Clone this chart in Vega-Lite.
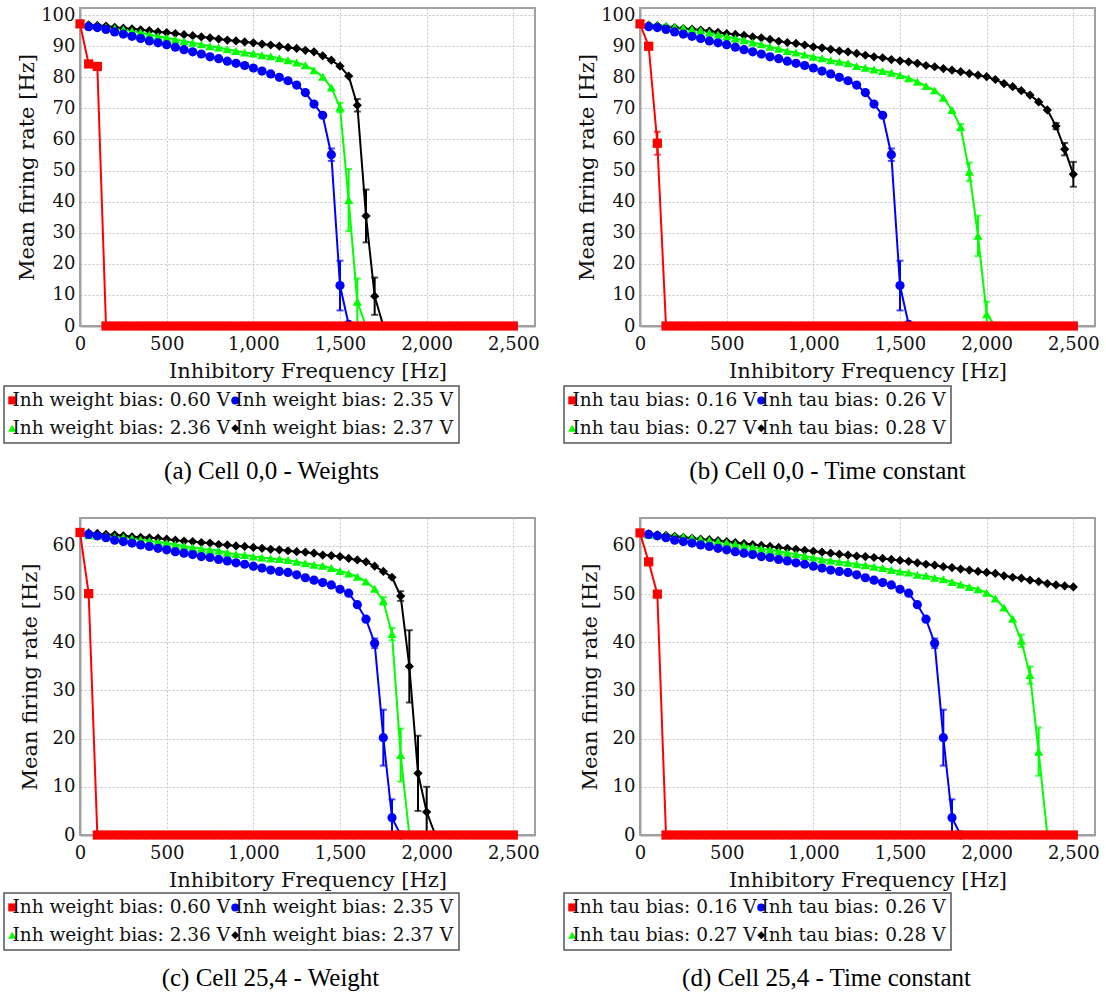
{
"$schema":"https://vega.github.io/schema/vega-lite/v6.json",
"background":"white",
"padding":{"left":2,"top":5,"right":5,"bottom":5},
"datasets":{
"a":[
{"s":"2.37 V","x":50,"y":96.9},{"s":"2.37 V","x":100,"y":96.7},{"s":"2.37 V","x":150,"y":96.5},{"s":"2.37 V","x":200,"y":96.1},{"s":"2.37 V","x":250,"y":95.8},{"s":"2.37 V","x":300,"y":95.6},{"s":"2.37 V","x":350,"y":95.3},{"s":"2.37 V","x":400,"y":95.0},{"s":"2.37 V","x":450,"y":94.6},{"s":"2.37 V","x":500,"y":94.4},{"s":"2.37 V","x":550,"y":94.1},{"s":"2.37 V","x":600,"y":93.7},{"s":"2.37 V","x":650,"y":93.4},{"s":"2.37 V","x":700,"y":93.0},{"s":"2.37 V","x":750,"y":92.7},{"s":"2.37 V","x":800,"y":92.3},{"s":"2.37 V","x":850,"y":92.0},{"s":"2.37 V","x":900,"y":91.7},{"s":"2.37 V","x":950,"y":91.4},{"s":"2.37 V","x":1000,"y":91.1},{"s":"2.37 V","x":1050,"y":90.7},{"s":"2.37 V","x":1100,"y":90.4},{"s":"2.37 V","x":1150,"y":90.0},{"s":"2.37 V","x":1200,"y":89.6},{"s":"2.37 V","x":1250,"y":89.3},{"s":"2.37 V","x":1300,"y":88.7},{"s":"2.37 V","x":1350,"y":88.2},{"s":"2.37 V","x":1400,"y":86.9},{"s":"2.37 V","x":1450,"y":85.5},{"s":"2.37 V","x":1500,"y":83.6},{"s":"2.37 V","x":1550,"y":80.4},{"s":"2.37 V","x":1600,"y":71.0,"e":2},{"s":"2.37 V","x":1650,"y":35.4,"e":8.5},{"s":"2.37 V","x":1700,"y":9.6,"e":6},{"s":"2.37 V","x":1750,"y":0},
{"s":"2.36 V","x":50,"y":96.8},{"s":"2.36 V","x":100,"y":96.6},{"s":"2.36 V","x":150,"y":96.2},{"s":"2.36 V","x":200,"y":95.8},{"s":"2.36 V","x":250,"y":95.4},{"s":"2.36 V","x":300,"y":94.9},{"s":"2.36 V","x":350,"y":94.4},{"s":"2.36 V","x":400,"y":93.8},{"s":"2.36 V","x":450,"y":93.2},{"s":"2.36 V","x":500,"y":92.7},{"s":"2.36 V","x":550,"y":92.2},{"s":"2.36 V","x":600,"y":91.6},{"s":"2.36 V","x":650,"y":91.1},{"s":"2.36 V","x":700,"y":90.6},{"s":"2.36 V","x":750,"y":90.0},{"s":"2.36 V","x":800,"y":89.6},{"s":"2.36 V","x":850,"y":89.0},{"s":"2.36 V","x":900,"y":88.5},{"s":"2.36 V","x":950,"y":88.0},{"s":"2.36 V","x":1000,"y":87.7},{"s":"2.36 V","x":1050,"y":87.1},{"s":"2.36 V","x":1100,"y":86.8},{"s":"2.36 V","x":1150,"y":86.1},{"s":"2.36 V","x":1200,"y":85.5},{"s":"2.36 V","x":1250,"y":84.8},{"s":"2.36 V","x":1300,"y":83.9},{"s":"2.36 V","x":1350,"y":82.3},{"s":"2.36 V","x":1400,"y":80.2},{"s":"2.36 V","x":1450,"y":76.7},{"s":"2.36 V","x":1500,"y":70.3,"e":1.5},{"s":"2.36 V","x":1550,"y":40.5,"e":10},{"s":"2.36 V","x":1600,"y":7.8,"e":7.5},{"s":"2.36 V","x":1650,"y":0},
{"s":"2.35 V","x":50,"y":96.3},{"s":"2.35 V","x":100,"y":96.0},{"s":"2.35 V","x":150,"y":95.4},{"s":"2.35 V","x":200,"y":94.6},{"s":"2.35 V","x":250,"y":93.9},{"s":"2.35 V","x":300,"y":93.2},{"s":"2.35 V","x":350,"y":92.5},{"s":"2.35 V","x":400,"y":91.7},{"s":"2.35 V","x":450,"y":91.1},{"s":"2.35 V","x":500,"y":90.5},{"s":"2.35 V","x":550,"y":89.7},{"s":"2.35 V","x":600,"y":88.9},{"s":"2.35 V","x":650,"y":88.2},{"s":"2.35 V","x":700,"y":87.5},{"s":"2.35 V","x":750,"y":86.6},{"s":"2.35 V","x":800,"y":86.0},{"s":"2.35 V","x":850,"y":85.2},{"s":"2.35 V","x":900,"y":84.5},{"s":"2.35 V","x":950,"y":83.8},{"s":"2.35 V","x":1000,"y":83.0},{"s":"2.35 V","x":1050,"y":82.0},{"s":"2.35 V","x":1100,"y":81.1},{"s":"2.35 V","x":1150,"y":80.0},{"s":"2.35 V","x":1200,"y":78.9},{"s":"2.35 V","x":1250,"y":77.5},{"s":"2.35 V","x":1300,"y":75.1},{"s":"2.35 V","x":1350,"y":71.4},{"s":"2.35 V","x":1400,"y":67.8},{"s":"2.35 V","x":1450,"y":55.1,"e":2},{"s":"2.35 V","x":1500,"y":13.0,"e":8},{"s":"2.35 V","x":1550,"y":0.5},
{"s":"0.60 V","x":0,"y":97.2},{"s":"0.60 V","x":50,"y":84.3},{"s":"0.60 V","x":100,"y":83.5},{"s":"0.60 V","x":150,"y":0},{"s":"0.60 V","x":200,"y":0},{"s":"0.60 V","x":250,"y":0},{"s":"0.60 V","x":300,"y":0},{"s":"0.60 V","x":350,"y":0},{"s":"0.60 V","x":400,"y":0},{"s":"0.60 V","x":450,"y":0},{"s":"0.60 V","x":500,"y":0},{"s":"0.60 V","x":550,"y":0},{"s":"0.60 V","x":600,"y":0},{"s":"0.60 V","x":650,"y":0},{"s":"0.60 V","x":700,"y":0},{"s":"0.60 V","x":750,"y":0},{"s":"0.60 V","x":800,"y":0},{"s":"0.60 V","x":850,"y":0},{"s":"0.60 V","x":900,"y":0},{"s":"0.60 V","x":950,"y":0},{"s":"0.60 V","x":1000,"y":0},{"s":"0.60 V","x":1050,"y":0},{"s":"0.60 V","x":1100,"y":0},{"s":"0.60 V","x":1150,"y":0},{"s":"0.60 V","x":1200,"y":0},{"s":"0.60 V","x":1250,"y":0},{"s":"0.60 V","x":1300,"y":0},{"s":"0.60 V","x":1350,"y":0},{"s":"0.60 V","x":1400,"y":0},{"s":"0.60 V","x":1450,"y":0},{"s":"0.60 V","x":1500,"y":0},{"s":"0.60 V","x":1550,"y":0},{"s":"0.60 V","x":1600,"y":0},{"s":"0.60 V","x":1650,"y":0},{"s":"0.60 V","x":1700,"y":0},{"s":"0.60 V","x":1750,"y":0},{"s":"0.60 V","x":1800,"y":0},{"s":"0.60 V","x":1850,"y":0},{"s":"0.60 V","x":1900,"y":0},{"s":"0.60 V","x":1950,"y":0},{"s":"0.60 V","x":2000,"y":0},{"s":"0.60 V","x":2050,"y":0},{"s":"0.60 V","x":2100,"y":0},{"s":"0.60 V","x":2150,"y":0},{"s":"0.60 V","x":2200,"y":0},{"s":"0.60 V","x":2250,"y":0},{"s":"0.60 V","x":2300,"y":0},{"s":"0.60 V","x":2350,"y":0},{"s":"0.60 V","x":2400,"y":0},{"s":"0.60 V","x":2450,"y":0},{"s":"0.60 V","x":2500,"y":0}
],
"b":[
{"s":"0.28 V","x":50,"y":96.8},{"s":"0.28 V","x":100,"y":96.6},{"s":"0.28 V","x":150,"y":96.2},{"s":"0.28 V","x":200,"y":96.0},{"s":"0.28 V","x":250,"y":95.7},{"s":"0.28 V","x":300,"y":95.5},{"s":"0.28 V","x":350,"y":95.2},{"s":"0.28 V","x":400,"y":94.9},{"s":"0.28 V","x":450,"y":94.5},{"s":"0.28 V","x":500,"y":94.1},{"s":"0.28 V","x":550,"y":93.8},{"s":"0.28 V","x":600,"y":93.5},{"s":"0.28 V","x":650,"y":93.0},{"s":"0.28 V","x":700,"y":92.7},{"s":"0.28 V","x":750,"y":92.2},{"s":"0.28 V","x":800,"y":91.6},{"s":"0.28 V","x":850,"y":91.2},{"s":"0.28 V","x":900,"y":90.9},{"s":"0.28 V","x":950,"y":90.4},{"s":"0.28 V","x":1000,"y":89.8},{"s":"0.28 V","x":1050,"y":89.5},{"s":"0.28 V","x":1100,"y":89.0},{"s":"0.28 V","x":1150,"y":88.5},{"s":"0.28 V","x":1200,"y":88.2},{"s":"0.28 V","x":1250,"y":87.7},{"s":"0.28 V","x":1300,"y":87.1},{"s":"0.28 V","x":1350,"y":86.6},{"s":"0.28 V","x":1400,"y":86.3},{"s":"0.28 V","x":1450,"y":85.7},{"s":"0.28 V","x":1500,"y":85.3},{"s":"0.28 V","x":1550,"y":85.0},{"s":"0.28 V","x":1600,"y":84.5},{"s":"0.28 V","x":1650,"y":83.8},{"s":"0.28 V","x":1700,"y":83.4},{"s":"0.28 V","x":1750,"y":82.8},{"s":"0.28 V","x":1800,"y":82.3},{"s":"0.28 V","x":1850,"y":81.8},{"s":"0.28 V","x":1900,"y":81.2},{"s":"0.28 V","x":1950,"y":80.7},{"s":"0.28 V","x":2000,"y":80.2},{"s":"0.28 V","x":2050,"y":79.3},{"s":"0.28 V","x":2100,"y":78.0},{"s":"0.28 V","x":2150,"y":77.0},{"s":"0.28 V","x":2200,"y":75.7},{"s":"0.28 V","x":2250,"y":74.3},{"s":"0.28 V","x":2300,"y":72.1},{"s":"0.28 V","x":2350,"y":69.5},{"s":"0.28 V","x":2400,"y":64.3,"e":1},{"s":"0.28 V","x":2450,"y":56.9,"e":2},{"s":"0.28 V","x":2500,"y":48.8,"e":4},
{"s":"0.27 V","x":50,"y":97.0},{"s":"0.27 V","x":100,"y":96.8},{"s":"0.27 V","x":150,"y":96.6},{"s":"0.27 V","x":200,"y":96.2},{"s":"0.27 V","x":250,"y":95.9},{"s":"0.27 V","x":300,"y":95.5},{"s":"0.27 V","x":350,"y":95.1},{"s":"0.27 V","x":400,"y":94.4},{"s":"0.27 V","x":450,"y":93.8},{"s":"0.27 V","x":500,"y":93.1},{"s":"0.27 V","x":550,"y":92.5},{"s":"0.27 V","x":600,"y":91.9},{"s":"0.27 V","x":650,"y":91.2},{"s":"0.27 V","x":700,"y":90.6},{"s":"0.27 V","x":750,"y":89.8},{"s":"0.27 V","x":800,"y":89.2},{"s":"0.27 V","x":850,"y":88.5},{"s":"0.27 V","x":900,"y":88.0},{"s":"0.27 V","x":950,"y":87.3},{"s":"0.27 V","x":1000,"y":86.6},{"s":"0.27 V","x":1050,"y":86.1},{"s":"0.27 V","x":1100,"y":85.5},{"s":"0.27 V","x":1150,"y":85.0},{"s":"0.27 V","x":1200,"y":84.5},{"s":"0.27 V","x":1250,"y":83.6},{"s":"0.27 V","x":1300,"y":83.1},{"s":"0.27 V","x":1350,"y":82.5},{"s":"0.27 V","x":1400,"y":82.0},{"s":"0.27 V","x":1450,"y":81.5},{"s":"0.27 V","x":1500,"y":80.7},{"s":"0.27 V","x":1550,"y":79.7},{"s":"0.27 V","x":1600,"y":78.6},{"s":"0.27 V","x":1650,"y":77.2},{"s":"0.27 V","x":1700,"y":75.8},{"s":"0.27 V","x":1750,"y":73.4},{"s":"0.27 V","x":1800,"y":69.5},{"s":"0.27 V","x":1850,"y":64.0,"e":1},{"s":"0.27 V","x":1900,"y":49.6,"e":3},{"s":"0.27 V","x":1950,"y":29.0,"e":6.5},{"s":"0.27 V","x":2000,"y":3.8,"e":4},{"s":"0.27 V","x":2050,"y":0},
{"s":"0.26 V","x":50,"y":96.3},{"s":"0.26 V","x":100,"y":96.0},{"s":"0.26 V","x":150,"y":95.4},{"s":"0.26 V","x":200,"y":94.6},{"s":"0.26 V","x":250,"y":93.9},{"s":"0.26 V","x":300,"y":93.2},{"s":"0.26 V","x":350,"y":92.5},{"s":"0.26 V","x":400,"y":91.7},{"s":"0.26 V","x":450,"y":91.1},{"s":"0.26 V","x":500,"y":90.5},{"s":"0.26 V","x":550,"y":89.7},{"s":"0.26 V","x":600,"y":88.9},{"s":"0.26 V","x":650,"y":88.2},{"s":"0.26 V","x":700,"y":87.5},{"s":"0.26 V","x":750,"y":86.6},{"s":"0.26 V","x":800,"y":86.0},{"s":"0.26 V","x":850,"y":85.2},{"s":"0.26 V","x":900,"y":84.5},{"s":"0.26 V","x":950,"y":83.8},{"s":"0.26 V","x":1000,"y":83.0},{"s":"0.26 V","x":1050,"y":82.0},{"s":"0.26 V","x":1100,"y":81.1},{"s":"0.26 V","x":1150,"y":80.0},{"s":"0.26 V","x":1200,"y":78.9},{"s":"0.26 V","x":1250,"y":77.5},{"s":"0.26 V","x":1300,"y":75.1},{"s":"0.26 V","x":1350,"y":71.4},{"s":"0.26 V","x":1400,"y":67.8},{"s":"0.26 V","x":1450,"y":55.1,"e":2},{"s":"0.26 V","x":1500,"y":13.0,"e":8},{"s":"0.26 V","x":1550,"y":0.5},
{"s":"0.16 V","x":0,"y":97.2},{"s":"0.16 V","x":50,"y":90.0},{"s":"0.16 V","x":100,"y":58.8,"e":3.7},{"s":"0.16 V","x":150,"y":0},{"s":"0.16 V","x":200,"y":0},{"s":"0.16 V","x":250,"y":0},{"s":"0.16 V","x":300,"y":0},{"s":"0.16 V","x":350,"y":0},{"s":"0.16 V","x":400,"y":0},{"s":"0.16 V","x":450,"y":0},{"s":"0.16 V","x":500,"y":0},{"s":"0.16 V","x":550,"y":0},{"s":"0.16 V","x":600,"y":0},{"s":"0.16 V","x":650,"y":0},{"s":"0.16 V","x":700,"y":0},{"s":"0.16 V","x":750,"y":0},{"s":"0.16 V","x":800,"y":0},{"s":"0.16 V","x":850,"y":0},{"s":"0.16 V","x":900,"y":0},{"s":"0.16 V","x":950,"y":0},{"s":"0.16 V","x":1000,"y":0},{"s":"0.16 V","x":1050,"y":0},{"s":"0.16 V","x":1100,"y":0},{"s":"0.16 V","x":1150,"y":0},{"s":"0.16 V","x":1200,"y":0},{"s":"0.16 V","x":1250,"y":0},{"s":"0.16 V","x":1300,"y":0},{"s":"0.16 V","x":1350,"y":0},{"s":"0.16 V","x":1400,"y":0},{"s":"0.16 V","x":1450,"y":0},{"s":"0.16 V","x":1500,"y":0},{"s":"0.16 V","x":1550,"y":0},{"s":"0.16 V","x":1600,"y":0},{"s":"0.16 V","x":1650,"y":0},{"s":"0.16 V","x":1700,"y":0},{"s":"0.16 V","x":1750,"y":0},{"s":"0.16 V","x":1800,"y":0},{"s":"0.16 V","x":1850,"y":0},{"s":"0.16 V","x":1900,"y":0},{"s":"0.16 V","x":1950,"y":0},{"s":"0.16 V","x":2000,"y":0},{"s":"0.16 V","x":2050,"y":0},{"s":"0.16 V","x":2100,"y":0},{"s":"0.16 V","x":2150,"y":0},{"s":"0.16 V","x":2200,"y":0},{"s":"0.16 V","x":2250,"y":0},{"s":"0.16 V","x":2300,"y":0},{"s":"0.16 V","x":2350,"y":0},{"s":"0.16 V","x":2400,"y":0},{"s":"0.16 V","x":2450,"y":0},{"s":"0.16 V","x":2500,"y":0}
],
"c":[
{"s":"2.37 V","x":50,"y":62.7},{"s":"2.37 V","x":100,"y":62.6},{"s":"2.37 V","x":150,"y":62.4},{"s":"2.37 V","x":200,"y":62.3},{"s":"2.37 V","x":250,"y":62.1},{"s":"2.37 V","x":300,"y":61.9},{"s":"2.37 V","x":350,"y":61.8},{"s":"2.37 V","x":400,"y":61.7},{"s":"2.37 V","x":450,"y":61.6},{"s":"2.37 V","x":500,"y":61.4},{"s":"2.37 V","x":550,"y":61.2},{"s":"2.37 V","x":600,"y":61.0},{"s":"2.37 V","x":650,"y":60.9},{"s":"2.37 V","x":700,"y":60.7},{"s":"2.37 V","x":750,"y":60.6},{"s":"2.37 V","x":800,"y":60.3},{"s":"2.37 V","x":850,"y":60.2},{"s":"2.37 V","x":900,"y":60.0},{"s":"2.37 V","x":950,"y":59.9},{"s":"2.37 V","x":1000,"y":59.7},{"s":"2.37 V","x":1050,"y":59.5},{"s":"2.37 V","x":1100,"y":59.3},{"s":"2.37 V","x":1150,"y":59.2},{"s":"2.37 V","x":1200,"y":59.0},{"s":"2.37 V","x":1250,"y":58.8},{"s":"2.37 V","x":1300,"y":58.7},{"s":"2.37 V","x":1350,"y":58.5},{"s":"2.37 V","x":1400,"y":58.1},{"s":"2.37 V","x":1450,"y":58.0},{"s":"2.37 V","x":1500,"y":57.8},{"s":"2.37 V","x":1550,"y":57.4},{"s":"2.37 V","x":1600,"y":57.1},{"s":"2.37 V","x":1650,"y":56.7},{"s":"2.37 V","x":1700,"y":55.8},{"s":"2.37 V","x":1750,"y":54.7},{"s":"2.37 V","x":1800,"y":53.5},{"s":"2.37 V","x":1850,"y":49.6,"e":1},{"s":"2.37 V","x":1900,"y":35.0,"e":7.5},{"s":"2.37 V","x":1950,"y":12.8,"e":7.8},{"s":"2.37 V","x":2000,"y":4.8,"e":5.2},{"s":"2.37 V","x":2050,"y":0},
{"s":"2.36 V","x":50,"y":62.2},{"s":"2.36 V","x":100,"y":62.1},{"s":"2.36 V","x":150,"y":62.1},{"s":"2.36 V","x":200,"y":61.9},{"s":"2.36 V","x":250,"y":61.8},{"s":"2.36 V","x":300,"y":61.6},{"s":"2.36 V","x":350,"y":61.3},{"s":"2.36 V","x":400,"y":61.1},{"s":"2.36 V","x":450,"y":60.8},{"s":"2.36 V","x":500,"y":60.6},{"s":"2.36 V","x":550,"y":60.3},{"s":"2.36 V","x":600,"y":60.0},{"s":"2.36 V","x":650,"y":59.7},{"s":"2.36 V","x":700,"y":59.4},{"s":"2.36 V","x":750,"y":59.2},{"s":"2.36 V","x":800,"y":59.0},{"s":"2.36 V","x":850,"y":58.6},{"s":"2.36 V","x":900,"y":58.3},{"s":"2.36 V","x":950,"y":58.1},{"s":"2.36 V","x":1000,"y":57.8},{"s":"2.36 V","x":1050,"y":57.6},{"s":"2.36 V","x":1100,"y":57.4},{"s":"2.36 V","x":1150,"y":57.3},{"s":"2.36 V","x":1200,"y":57.1},{"s":"2.36 V","x":1250,"y":56.7},{"s":"2.36 V","x":1300,"y":56.4},{"s":"2.36 V","x":1350,"y":56.1},{"s":"2.36 V","x":1400,"y":55.9},{"s":"2.36 V","x":1450,"y":55.4},{"s":"2.36 V","x":1500,"y":54.8},{"s":"2.36 V","x":1550,"y":54.3},{"s":"2.36 V","x":1600,"y":53.6},{"s":"2.36 V","x":1650,"y":52.6},{"s":"2.36 V","x":1700,"y":51.1},{"s":"2.36 V","x":1750,"y":48.6,"e":0.8},{"s":"2.36 V","x":1800,"y":41.7,"e":1.3},{"s":"2.36 V","x":1850,"y":16.6,"e":5.5},{"s":"2.36 V","x":1900,"y":0},
{"s":"2.35 V","x":50,"y":62.4},{"s":"2.35 V","x":100,"y":62.1},{"s":"2.35 V","x":150,"y":61.7},{"s":"2.35 V","x":200,"y":61.2},{"s":"2.35 V","x":250,"y":60.9},{"s":"2.35 V","x":300,"y":60.6},{"s":"2.35 V","x":350,"y":60.2},{"s":"2.35 V","x":400,"y":59.9},{"s":"2.35 V","x":450,"y":59.5},{"s":"2.35 V","x":500,"y":59.2},{"s":"2.35 V","x":550,"y":58.8},{"s":"2.35 V","x":600,"y":58.5},{"s":"2.35 V","x":650,"y":58.2},{"s":"2.35 V","x":700,"y":57.8},{"s":"2.35 V","x":750,"y":57.6},{"s":"2.35 V","x":800,"y":57.2},{"s":"2.35 V","x":850,"y":56.9},{"s":"2.35 V","x":900,"y":56.5},{"s":"2.35 V","x":950,"y":56.2},{"s":"2.35 V","x":1000,"y":55.8},{"s":"2.35 V","x":1050,"y":55.4},{"s":"2.35 V","x":1100,"y":55.0},{"s":"2.35 V","x":1150,"y":54.7},{"s":"2.35 V","x":1200,"y":54.5},{"s":"2.35 V","x":1250,"y":54.0},{"s":"2.35 V","x":1300,"y":53.4},{"s":"2.35 V","x":1350,"y":52.9},{"s":"2.35 V","x":1400,"y":52.4},{"s":"2.35 V","x":1450,"y":51.9},{"s":"2.35 V","x":1500,"y":51.0},{"s":"2.35 V","x":1550,"y":50.2},{"s":"2.35 V","x":1600,"y":47.8},{"s":"2.35 V","x":1650,"y":44.8},{"s":"2.35 V","x":1700,"y":39.8,"e":1},{"s":"2.35 V","x":1750,"y":20.2,"e":5.8},{"s":"2.35 V","x":1800,"y":3.6,"e":3.8},{"s":"2.35 V","x":1850,"y":0},
{"s":"0.60 V","x":0,"y":62.8},{"s":"0.60 V","x":50,"y":50.1},{"s":"0.60 V","x":100,"y":0},{"s":"0.60 V","x":150,"y":0},{"s":"0.60 V","x":200,"y":0},{"s":"0.60 V","x":250,"y":0},{"s":"0.60 V","x":300,"y":0},{"s":"0.60 V","x":350,"y":0},{"s":"0.60 V","x":400,"y":0},{"s":"0.60 V","x":450,"y":0},{"s":"0.60 V","x":500,"y":0},{"s":"0.60 V","x":550,"y":0},{"s":"0.60 V","x":600,"y":0},{"s":"0.60 V","x":650,"y":0},{"s":"0.60 V","x":700,"y":0},{"s":"0.60 V","x":750,"y":0},{"s":"0.60 V","x":800,"y":0},{"s":"0.60 V","x":850,"y":0},{"s":"0.60 V","x":900,"y":0},{"s":"0.60 V","x":950,"y":0},{"s":"0.60 V","x":1000,"y":0},{"s":"0.60 V","x":1050,"y":0},{"s":"0.60 V","x":1100,"y":0},{"s":"0.60 V","x":1150,"y":0},{"s":"0.60 V","x":1200,"y":0},{"s":"0.60 V","x":1250,"y":0},{"s":"0.60 V","x":1300,"y":0},{"s":"0.60 V","x":1350,"y":0},{"s":"0.60 V","x":1400,"y":0},{"s":"0.60 V","x":1450,"y":0},{"s":"0.60 V","x":1500,"y":0},{"s":"0.60 V","x":1550,"y":0},{"s":"0.60 V","x":1600,"y":0},{"s":"0.60 V","x":1650,"y":0},{"s":"0.60 V","x":1700,"y":0},{"s":"0.60 V","x":1750,"y":0},{"s":"0.60 V","x":1800,"y":0},{"s":"0.60 V","x":1850,"y":0},{"s":"0.60 V","x":1900,"y":0},{"s":"0.60 V","x":1950,"y":0},{"s":"0.60 V","x":2000,"y":0},{"s":"0.60 V","x":2050,"y":0},{"s":"0.60 V","x":2100,"y":0},{"s":"0.60 V","x":2150,"y":0},{"s":"0.60 V","x":2200,"y":0},{"s":"0.60 V","x":2250,"y":0},{"s":"0.60 V","x":2300,"y":0},{"s":"0.60 V","x":2350,"y":0},{"s":"0.60 V","x":2400,"y":0},{"s":"0.60 V","x":2450,"y":0},{"s":"0.60 V","x":2500,"y":0}
],
"d":[
{"s":"0.28 V","x":50,"y":62.5},{"s":"0.28 V","x":100,"y":62.3},{"s":"0.28 V","x":150,"y":62.2},{"s":"0.28 V","x":200,"y":62.0},{"s":"0.28 V","x":250,"y":61.8},{"s":"0.28 V","x":300,"y":61.6},{"s":"0.28 V","x":350,"y":61.4},{"s":"0.28 V","x":400,"y":61.3},{"s":"0.28 V","x":450,"y":61.1},{"s":"0.28 V","x":500,"y":60.9},{"s":"0.28 V","x":550,"y":60.7},{"s":"0.28 V","x":600,"y":60.5},{"s":"0.28 V","x":650,"y":60.3},{"s":"0.28 V","x":700,"y":60.1},{"s":"0.28 V","x":750,"y":59.9},{"s":"0.28 V","x":800,"y":59.7},{"s":"0.28 V","x":850,"y":59.5},{"s":"0.28 V","x":900,"y":59.3},{"s":"0.28 V","x":950,"y":59.1},{"s":"0.28 V","x":1000,"y":58.9},{"s":"0.28 V","x":1050,"y":58.7},{"s":"0.28 V","x":1100,"y":58.5},{"s":"0.28 V","x":1150,"y":58.3},{"s":"0.28 V","x":1200,"y":58.1},{"s":"0.28 V","x":1250,"y":57.9},{"s":"0.28 V","x":1300,"y":57.8},{"s":"0.28 V","x":1350,"y":57.6},{"s":"0.28 V","x":1400,"y":57.4},{"s":"0.28 V","x":1450,"y":57.2},{"s":"0.28 V","x":1500,"y":57.0},{"s":"0.28 V","x":1550,"y":56.8},{"s":"0.28 V","x":1600,"y":56.5},{"s":"0.28 V","x":1650,"y":56.2},{"s":"0.28 V","x":1700,"y":56.0},{"s":"0.28 V","x":1750,"y":55.7},{"s":"0.28 V","x":1800,"y":55.5},{"s":"0.28 V","x":1850,"y":55.2},{"s":"0.28 V","x":1900,"y":55.0},{"s":"0.28 V","x":1950,"y":54.7},{"s":"0.28 V","x":2000,"y":54.5},{"s":"0.28 V","x":2050,"y":54.3},{"s":"0.28 V","x":2100,"y":53.8},{"s":"0.28 V","x":2150,"y":53.5},{"s":"0.28 V","x":2200,"y":53.3},{"s":"0.28 V","x":2250,"y":52.9},{"s":"0.28 V","x":2300,"y":52.6},{"s":"0.28 V","x":2350,"y":52.2},{"s":"0.28 V","x":2400,"y":51.9},{"s":"0.28 V","x":2450,"y":51.7},{"s":"0.28 V","x":2500,"y":51.5},
{"s":"0.27 V","x":50,"y":62.3},{"s":"0.27 V","x":100,"y":62.2},{"s":"0.27 V","x":150,"y":62.2},{"s":"0.27 V","x":200,"y":62.0},{"s":"0.27 V","x":250,"y":61.9},{"s":"0.27 V","x":300,"y":61.7},{"s":"0.27 V","x":350,"y":61.4},{"s":"0.27 V","x":400,"y":61.2},{"s":"0.27 V","x":450,"y":61.0},{"s":"0.27 V","x":500,"y":60.7},{"s":"0.27 V","x":550,"y":60.4},{"s":"0.27 V","x":600,"y":60.1},{"s":"0.27 V","x":650,"y":59.8},{"s":"0.27 V","x":700,"y":59.4},{"s":"0.27 V","x":750,"y":59.2},{"s":"0.27 V","x":800,"y":58.9},{"s":"0.27 V","x":850,"y":58.6},{"s":"0.27 V","x":900,"y":58.3},{"s":"0.27 V","x":950,"y":57.9},{"s":"0.27 V","x":1000,"y":57.6},{"s":"0.27 V","x":1050,"y":57.2},{"s":"0.27 V","x":1100,"y":57.0},{"s":"0.27 V","x":1150,"y":56.7},{"s":"0.27 V","x":1200,"y":56.5},{"s":"0.27 V","x":1250,"y":56.2},{"s":"0.27 V","x":1300,"y":56.0},{"s":"0.27 V","x":1350,"y":55.7},{"s":"0.27 V","x":1400,"y":55.4},{"s":"0.27 V","x":1450,"y":55.0},{"s":"0.27 V","x":1500,"y":54.7},{"s":"0.27 V","x":1550,"y":54.5},{"s":"0.27 V","x":1600,"y":54.0},{"s":"0.27 V","x":1650,"y":53.8},{"s":"0.27 V","x":1700,"y":53.4},{"s":"0.27 V","x":1750,"y":53.1},{"s":"0.27 V","x":1800,"y":52.5},{"s":"0.27 V","x":1850,"y":52.0},{"s":"0.27 V","x":1900,"y":51.5},{"s":"0.27 V","x":1950,"y":51.0},{"s":"0.27 V","x":2000,"y":50.3},{"s":"0.27 V","x":2050,"y":49.1},{"s":"0.27 V","x":2100,"y":47.2},{"s":"0.27 V","x":2150,"y":44.9},{"s":"0.27 V","x":2200,"y":40.3,"e":1.3},{"s":"0.27 V","x":2250,"y":33.2,"e":1.8},{"s":"0.27 V","x":2300,"y":17.3,"e":5},{"s":"0.27 V","x":2350,"y":0},
{"s":"0.26 V","x":50,"y":62.4},{"s":"0.26 V","x":100,"y":62.1},{"s":"0.26 V","x":150,"y":61.7},{"s":"0.26 V","x":200,"y":61.2},{"s":"0.26 V","x":250,"y":60.9},{"s":"0.26 V","x":300,"y":60.6},{"s":"0.26 V","x":350,"y":60.2},{"s":"0.26 V","x":400,"y":59.9},{"s":"0.26 V","x":450,"y":59.5},{"s":"0.26 V","x":500,"y":59.2},{"s":"0.26 V","x":550,"y":58.8},{"s":"0.26 V","x":600,"y":58.5},{"s":"0.26 V","x":650,"y":58.2},{"s":"0.26 V","x":700,"y":57.8},{"s":"0.26 V","x":750,"y":57.6},{"s":"0.26 V","x":800,"y":57.2},{"s":"0.26 V","x":850,"y":56.9},{"s":"0.26 V","x":900,"y":56.5},{"s":"0.26 V","x":950,"y":56.2},{"s":"0.26 V","x":1000,"y":55.8},{"s":"0.26 V","x":1050,"y":55.4},{"s":"0.26 V","x":1100,"y":55.0},{"s":"0.26 V","x":1150,"y":54.7},{"s":"0.26 V","x":1200,"y":54.5},{"s":"0.26 V","x":1250,"y":54.0},{"s":"0.26 V","x":1300,"y":53.4},{"s":"0.26 V","x":1350,"y":52.9},{"s":"0.26 V","x":1400,"y":52.4},{"s":"0.26 V","x":1450,"y":51.9},{"s":"0.26 V","x":1500,"y":51.0},{"s":"0.26 V","x":1550,"y":50.2},{"s":"0.26 V","x":1600,"y":47.8},{"s":"0.26 V","x":1650,"y":44.8},{"s":"0.26 V","x":1700,"y":39.8,"e":1},{"s":"0.26 V","x":1750,"y":20.2,"e":5.8},{"s":"0.26 V","x":1800,"y":3.6,"e":3.8},{"s":"0.26 V","x":1850,"y":0},
{"s":"0.16 V","x":0,"y":62.7},{"s":"0.16 V","x":50,"y":56.7},{"s":"0.16 V","x":100,"y":50.0},{"s":"0.16 V","x":150,"y":0},{"s":"0.16 V","x":200,"y":0},{"s":"0.16 V","x":250,"y":0},{"s":"0.16 V","x":300,"y":0},{"s":"0.16 V","x":350,"y":0},{"s":"0.16 V","x":400,"y":0},{"s":"0.16 V","x":450,"y":0},{"s":"0.16 V","x":500,"y":0},{"s":"0.16 V","x":550,"y":0},{"s":"0.16 V","x":600,"y":0},{"s":"0.16 V","x":650,"y":0},{"s":"0.16 V","x":700,"y":0},{"s":"0.16 V","x":750,"y":0},{"s":"0.16 V","x":800,"y":0},{"s":"0.16 V","x":850,"y":0},{"s":"0.16 V","x":900,"y":0},{"s":"0.16 V","x":950,"y":0},{"s":"0.16 V","x":1000,"y":0},{"s":"0.16 V","x":1050,"y":0},{"s":"0.16 V","x":1100,"y":0},{"s":"0.16 V","x":1150,"y":0},{"s":"0.16 V","x":1200,"y":0},{"s":"0.16 V","x":1250,"y":0},{"s":"0.16 V","x":1300,"y":0},{"s":"0.16 V","x":1350,"y":0},{"s":"0.16 V","x":1400,"y":0},{"s":"0.16 V","x":1450,"y":0},{"s":"0.16 V","x":1500,"y":0},{"s":"0.16 V","x":1550,"y":0},{"s":"0.16 V","x":1600,"y":0},{"s":"0.16 V","x":1650,"y":0},{"s":"0.16 V","x":1700,"y":0},{"s":"0.16 V","x":1750,"y":0},{"s":"0.16 V","x":1800,"y":0},{"s":"0.16 V","x":1850,"y":0},{"s":"0.16 V","x":1900,"y":0},{"s":"0.16 V","x":1950,"y":0},{"s":"0.16 V","x":2000,"y":0},{"s":"0.16 V","x":2050,"y":0},{"s":"0.16 V","x":2100,"y":0},{"s":"0.16 V","x":2150,"y":0},{"s":"0.16 V","x":2200,"y":0},{"s":"0.16 V","x":2250,"y":0},{"s":"0.16 V","x":2300,"y":0},{"s":"0.16 V","x":2350,"y":0},{"s":"0.16 V","x":2400,"y":0},{"s":"0.16 V","x":2450,"y":0},{"s":"0.16 V","x":2500,"y":0}
]
},
"spacing":32,
"bounds":"full",
"resolve":{"scale":{"color":"independent","shape":"independent"}},
"vconcat":[
{"spacing":105,"bounds":"flush","resolve":{"scale":{"color":"independent","shape":"independent"}},
"hconcat":[
{"width":455,"height":318,"data":{"name":"a"},
"title":{"text":"(a) Cell 0,0 - Weights","dx":-36,"offset":15},
"encoding":{
"x":{"field":"x","type":"quantitative","scale":{"domain":[0,2625],"nice":false},"axis":{"title":"Inhibitory Frequency [Hz]","values":[0,500,1000,1500,2000,2500],"format":",.0f"}},
"y":{"field":"y","type":"quantitative","scale":{"domain":[0,102.3],"nice":false},"axis":{"title":"Mean firing rate [Hz]","values":[0,10,20,30,40,50,60,70,80,90,100]}},
"color":{"field":"s","type":"nominal","scale":{"domain":["0.60 V","2.35 V","2.36 V","2.37 V"],"range":["#ff0000","#0000ff","#00ff00","#000000"]},"legend":{"title":null,"labelExpr":"'Inh weight bias: ' + datum.label","legendX":-76,"legendY":378}}},
"layer":[
{"mark":{"type":"line","strokeWidth":2}},
{"transform":[{"filter":"datum.e > 0"}],"mark":{"type":"errorbar","ticks":true,"size":7,"thickness":2},"encoding":{"yError":{"field":"e"}}},
{"mark":{"type":"point","filled":true,"size":85,"opacity":1},"encoding":{"shape":{"field":"s","type":"nominal","scale":{"domain":["0.60 V","2.35 V","2.36 V","2.37 V"],"range":["square","circle","triangle-up","diamond"]},"legend":{"title":null,"labelExpr":"'Inh weight bias: ' + datum.label","legendX":-76,"legendY":378}}}}
]},
{"width":455,"height":318,"data":{"name":"b"},
"title":{"text":"(b) Cell 0,0 - Time constant","dx":-40,"offset":15},
"encoding":{
"x":{"field":"x","type":"quantitative","scale":{"domain":[0,2625],"nice":false},"axis":{"title":"Inhibitory Frequency [Hz]","values":[0,500,1000,1500,2000,2500],"format":",.0f"}},
"y":{"field":"y","type":"quantitative","scale":{"domain":[0,102.3],"nice":false},"axis":{"title":"Mean firing rate [Hz]","values":[0,10,20,30,40,50,60,70,80,90,100]}},
"color":{"field":"s","type":"nominal","scale":{"domain":["0.16 V","0.26 V","0.27 V","0.28 V"],"range":["#ff0000","#0000ff","#00ff00","#000000"]},"legend":{"title":null,"labelExpr":"'Inh tau bias: ' + datum.label","legendX":-76,"legendY":378}}},
"layer":[
{"mark":{"type":"line","strokeWidth":2}},
{"transform":[{"filter":"datum.e > 0"}],"mark":{"type":"errorbar","ticks":true,"size":7,"thickness":2},"encoding":{"yError":{"field":"e"}}},
{"mark":{"type":"point","filled":true,"size":85,"opacity":1},"encoding":{"shape":{"field":"s","type":"nominal","scale":{"domain":["0.16 V","0.26 V","0.27 V","0.28 V"],"range":["square","circle","triangle-up","diamond"]},"legend":{"title":null,"labelExpr":"'Inh tau bias: ' + datum.label","legendX":-76,"legendY":378}}}}
]}
]},
{"spacing":105,"bounds":"flush","resolve":{"scale":{"color":"independent","shape":"independent"}},
"hconcat":[
{"width":455,"height":317,"data":{"name":"c"},
"title":{"text":"(c) Cell 25,4 - Weight","dx":-37,"offset":15},
"encoding":{
"x":{"field":"x","type":"quantitative","scale":{"domain":[0,2625],"nice":false},"axis":{"title":"Inhibitory Frequency [Hz]","values":[0,500,1000,1500,2000,2500],"format":",.0f"}},
"y":{"field":"y","type":"quantitative","scale":{"domain":[0,65.8],"nice":false},"axis":{"title":"Mean firing rate [Hz]","values":[0,10,20,30,40,50,60],"titlePadding":12}},
"color":{"field":"s","type":"nominal","scale":{"domain":["0.60 V","2.35 V","2.36 V","2.37 V"],"range":["#ff0000","#0000ff","#00ff00","#000000"]},"legend":{"title":null,"labelExpr":"'Inh weight bias: ' + datum.label","legendX":-76,"legendY":375}}},
"layer":[
{"mark":{"type":"line","strokeWidth":2}},
{"transform":[{"filter":"datum.e > 0"}],"mark":{"type":"errorbar","ticks":true,"size":7,"thickness":2},"encoding":{"yError":{"field":"e"}}},
{"mark":{"type":"point","filled":true,"size":85,"opacity":1},"encoding":{"shape":{"field":"s","type":"nominal","scale":{"domain":["0.60 V","2.35 V","2.36 V","2.37 V"],"range":["square","circle","triangle-up","diamond"]},"legend":{"title":null,"labelExpr":"'Inh weight bias: ' + datum.label","legendX":-76,"legendY":375}}}}
]},
{"width":455,"height":317,"data":{"name":"d"},
"title":{"text":"(d) Cell 25,4 - Time constant","dx":-41,"offset":15},
"encoding":{
"x":{"field":"x","type":"quantitative","scale":{"domain":[0,2625],"nice":false},"axis":{"title":"Inhibitory Frequency [Hz]","values":[0,500,1000,1500,2000,2500],"format":",.0f"}},
"y":{"field":"y","type":"quantitative","scale":{"domain":[0,65.8],"nice":false},"axis":{"title":"Mean firing rate [Hz]","values":[0,10,20,30,40,50,60],"titlePadding":12}},
"color":{"field":"s","type":"nominal","scale":{"domain":["0.16 V","0.26 V","0.27 V","0.28 V"],"range":["#ff0000","#0000ff","#00ff00","#000000"]},"legend":{"title":null,"labelExpr":"'Inh tau bias: ' + datum.label","legendX":-76,"legendY":375}}},
"layer":[
{"mark":{"type":"line","strokeWidth":2}},
{"transform":[{"filter":"datum.e > 0"}],"mark":{"type":"errorbar","ticks":true,"size":7,"thickness":2},"encoding":{"yError":{"field":"e"}}},
{"mark":{"type":"point","filled":true,"size":85,"opacity":1},"encoding":{"shape":{"field":"s","type":"nominal","scale":{"domain":["0.16 V","0.26 V","0.27 V","0.28 V"],"range":["square","circle","triangle-up","diamond"]},"legend":{"title":null,"labelExpr":"'Inh tau bias: ' + datum.label","legendX":-76,"legendY":375}}}}
]}
]}
],
"config":{
"view":{"stroke":"#a0a0a0","strokeWidth":2},
"axis":{"labelFont":"DejaVu Serif","labelFontSize":18,"labelColor":"#111","titleFont":"DejaVu Serif","titleFontSize":21,"titleFontWeight":"normal","titleColor":"#111","domainColor":"#a0a0a0","domainWidth":2,"ticks":false,"grid":true,"gridColor":"#c4c4c4","gridDash":[2,2],"gridWidth":1,"labelPadding":5,"labelFlush":false,"labelOverlap":false},
"axisX":{"labelPadding":9,"titlePadding":7},
"axisY":{"titlePadding":3},
"legend":{"orient":"none","direction":"horizontal","columns":2,"strokeColor":"#555","strokeWidth":1.5,"fillColor":"white","padding":5,"rowPadding":9,"columnPadding":0,"labelFont":"DejaVu Serif","labelFontSize":18.5,"labelColor":"#111","labelOffset":-9,"labelLimit":400,"symbolSize":64,"symbolStrokeWidth":0,"symbolOffset":-6,"symbolOpacity":1},
"title":{"font":"Liberation Serif","fontSize":25,"fontWeight":"normal","color":"#000","orient":"bottom","anchor":"middle","frame":"group"}
}
}
